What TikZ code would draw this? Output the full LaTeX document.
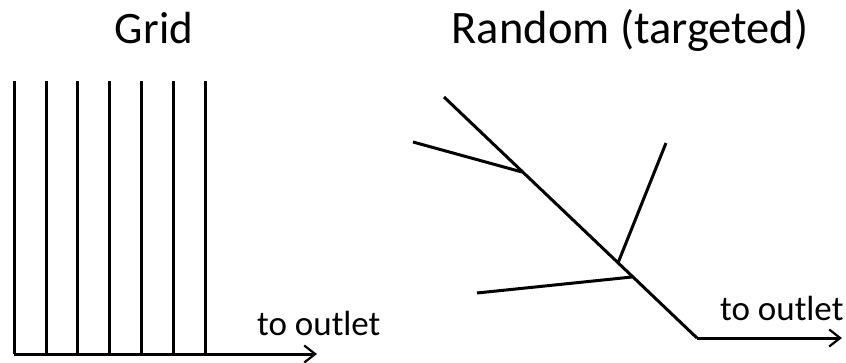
\documentclass[tikz,border=0pt]{standalone}
\usepackage{fontspec}
\setmainfont{Carlito}
\usetikzlibrary{arrows.meta}
\begin{document}
\begin{tikzpicture}[x=1pt,y=-1pt,
  pipe/.style={line width=3pt, line cap=butt, line join=round},
  outarrow/.style={pipe, -{Straight Barb[length=11pt,width=17pt,line width=2.2pt]}},
  title/.style={font=\fontsize{45}{50}\selectfont, inner sep=0pt, anchor=base},
  lbl/.style={font=\fontsize{35}{40}\selectfont, inner sep=0pt, anchor=base west}]
\useasboundingbox (0,0) rectangle (846,362);
% titles
\node[title] (gtitle) at (154,43) {Grid};
\node[title, font=\fontsize{46.5}{50}\selectfont] (rtitle) at (630,43) {Random (targeted)};
% grid
\foreach \i/\x in {1/14,2/46,3/77,4/109,5/141,6/173,7/205}{
  \coordinate (t\i) at (\x,81);
  \coordinate (b\i) at (\x,354);
  \draw[pipe] (t\i) -- (b\i);
}
\coordinate (gend) at (317,354);
\draw[outarrow] (b1) -- (gend);
\node[lbl] (glbl) at (257,335) {to outlet};
% random
\coordinate (m0) at (444,97);
\coordinate (j1) at (522,172);
\coordinate (j2) at (618,263);
\coordinate (j3) at (632,277);
\coordinate (m1) at (697,338);
\coordinate (rend) at (842,338);
\coordinate (a1) at (413,142);
\coordinate (a2) at (666,143);
\coordinate (a3) at (477,293);
\draw[pipe] (m0) -- (m1);
\draw[outarrow] (m1) -- (rend);
\draw[pipe] (a1) -- (j1);
\draw[pipe] (a2) -- (j2);
\draw[pipe] (a3) -- (j3);
\node[lbl] (rlbl) at (720,320) {to outlet};
\end{tikzpicture}
\end{document}
